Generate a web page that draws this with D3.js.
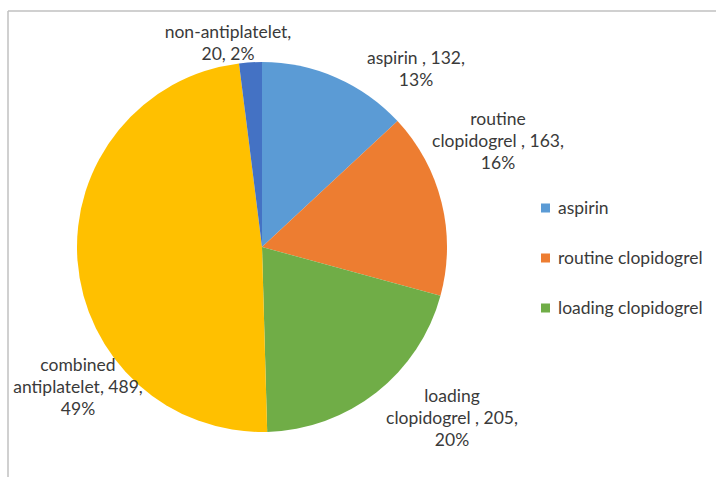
<!DOCTYPE html>
<html>
<head>
<meta charset="utf-8">
<script src="https://cdn.jsdelivr.net/npm/d3@7"></script>
<style>
  body { margin: 0; background: #fff; }
  svg { display: block; }
  text { font-family: Lato, "Open Sans", sans-serif; fill: #3a3a3a; }
</style>
</head>
<body>
<svg id="chart" width="716" height="477"></svg>
<script>
const categories = ["aspirin", "routine clopidogrel", "loading clopidogrel", "combined antiplatelet", "non-antiplatelet"];
const values = [132, 163, 205, 489, 20];
const percents = ["13%", "16%", "20%", "49%", "2%"];
const colors = ["#5B9BD5", "#ED7D31", "#70AD47", "#FFC000", "#4472C4"];
const labelLines = [
  ["aspirin , 132,", "13%"],
  ["routine", "clopidogrel , 163,", "16%"],
  ["loading", "clopidogrel , 205,", "20%"],
  ["combined", "antiplatelet, 489,", "49%"],
  ["non-antiplatelet,", "20, 2%"]
];
const legendItems = ["aspirin", "routine clopidogrel", "loading clopidogrel"];

const svg = d3.select("#chart");
const W = 716, H = 477;

// frame (top and left edges visible)
svg.append("line").attr("x1", 8).attr("x2", W).attr("y1", 11).attr("y2", 11)
  .attr("stroke", "#c0c0c0").attr("stroke-width", 1.5);
svg.append("line").attr("x1", 8).attr("x2", 8).attr("y1", 11).attr("y2", H)
  .attr("stroke", "#c0c0c0").attr("stroke-width", 1.5);

const cx = 262, cy = 247, r = 185;
const pie = d3.pie().sort(null).value(d => d.value);
const data = categories.map((c, i) => ({ name: c, value: values[i], i }));
const arcs = pie(data);
const arc = d3.arc().innerRadius(0).outerRadius(r);

const g = svg.append("g").attr("transform", `translate(${cx},${cy})`);
g.selectAll("path").data(arcs).enter().append("path")
  .attr("d", arc)
  .attr("fill", d => colors[d.data.i]);

// data label block centers
const centers = [[416, 69], [498, 141], [452, 418], [78, 387], [228, 43]];
const lineH = 22;
const fs = 17.5;
arcs.forEach((a, k) => {
  const lines = labelLines[k];
  const [px, py] = centers[k];
  const t = svg.append("text").attr("text-anchor", "middle").attr("font-size", fs);
  lines.forEach((ln, j) => {
    t.append("tspan").attr("x", px)
      .attr("y", py + (j - (lines.length - 1) / 2) * lineH + 6)
      .text(ln);
  });
});

// legend
const ly = d3.scalePoint().domain(legendItems).range([208, 308]);
const lg = svg.append("g");
legendItems.forEach((name, i) => {
  lg.append("rect").attr("x", 541).attr("y", ly(name) - 4.5).attr("width", 9).attr("height", 9)
    .attr("fill", colors[i]);
  lg.append("text").attr("x", 558).attr("y", ly(name) + 6).attr("font-size", fs).text(name);
});
</script>
</body>
</html>
